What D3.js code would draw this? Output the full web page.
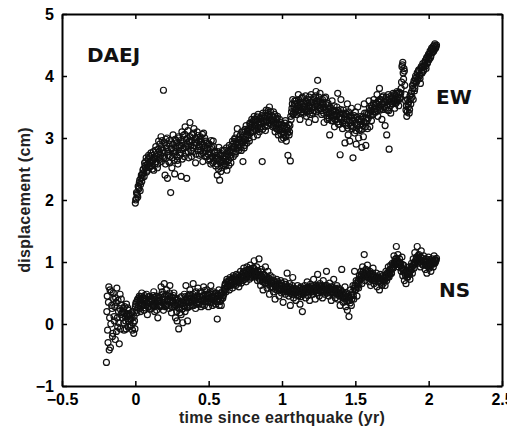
<!DOCTYPE html>
<meta charset="utf-8">
<style>
body { margin: 0; background: #fff; }
.axis text { font-family: "Liberation Sans", Arial, sans-serif; font-size: 16px; font-weight: bold; fill: #000; }
.axis path, .axis line { stroke: #000; }
.lbl { font-family: "Liberation Sans", Arial, sans-serif; font-size: 16px; font-weight: bold; fill: #222; letter-spacing: 0.3px; }
.tag { font-family: "DejaVu Sans", sans-serif; font-size: 20px; font-weight: bold; fill: #111; }
.pt { fill: none; stroke: #111; stroke-width: 1.2; }
</style>
<svg width="507" height="430"></svg>
<script src="https://d3js.org/d3.v7.min.js"></script>
<script>
// [days since earthquake, displacement in cm]
var ewPoints = [
[0,1.95],[1,2.00],[2,2.02],[3,2.12],[4,2.10],[5,2.08],[6,2.05],[7,2.22],[8,2.20],[9,2.18],
[10,2.28],[11,2.32],[12,2.15],[13,2.25],[14,2.35],[15,2.40],[16,2.30],[17,2.36],[18,2.42],[19,2.48],
[20,2.50],[21,2.44],[22,2.38],[23,2.60],[24,2.55],[25,2.52],[26,2.62],[27,2.68],[28,2.45],[29,2.56],
[30,2.58],[31,2.48],[32,2.66],[33,2.72],[34,2.52],[35,2.62],[36,2.70],[37,2.54],[38,2.60],[39,2.76],
[40,2.55],[41,2.62],[42,2.72],[43,2.50],[44,2.64],[45,2.78],[46,2.48],[47,2.66],[48,2.68],[49,2.58],
[50,2.80],[51,2.86],[52,2.62],[53,2.70],[54,2.74],[55,2.52],[56,2.58],[57,2.82],[58,2.95],[59,2.68],
[60,2.78],[61,2.90],[62,2.66],[63,2.72],[64,3.02],[65,2.62],[66,2.84],[67,2.96],[68,2.70],[69,2.80],
[70,3.77],[71,2.68],[72,2.76],[73,2.92],[74,2.40],[75,2.58],[76,2.98],[77,2.84],[78,2.88],[79,3.00],
[80,2.35],[81,2.78],[82,2.72],[83,2.62],[84,2.90],[85,2.96],[86,2.60],[87,2.70],[88,2.12],[89,2.84],
[90,2.82],[91,2.52],[92,2.68],[93,2.90],[94,3.05],[95,2.80],[96,2.75],[97,2.64],[98,2.42],[99,2.98],
[100,2.85],[101,2.78],[102,2.96],[103,2.92],[104,2.70],[105,2.64],[106,2.58],[107,3.02],[108,3.00],[109,2.84],
[110,2.88],[111,2.72],[112,2.76],[113,2.96],[114,2.38],[115,2.88],[116,3.10],[117,2.66],[118,2.82],[119,3.04],
[120,2.92],[121,2.84],[122,2.70],[123,3.06],[124,3.18],[125,2.76],[126,2.86],[127,2.98],[128,2.35],[129,2.90],
[130,3.00],[131,3.12],[132,2.78],[133,2.68],[134,2.95],[135,2.94],[136,3.25],[137,3.02],[138,2.88],[139,2.80],
[140,2.70],[141,2.96],[142,3.05],[143,2.78],[144,2.84],[145,3.08],[146,3.15],[147,2.88],[148,2.92],[149,3.00],
[150,2.60],[151,2.74],[152,2.98],[153,2.92],[154,3.10],[155,3.04],[156,2.80],[157,2.86],[158,2.95],[159,2.72],
[160,2.86],[161,2.98],[162,3.02],[163,2.80],[164,2.74],[165,2.94],[166,2.90],[167,3.06],[168,2.62],[169,2.76],
[170,3.08],[171,2.88],[172,2.84],[173,3.00],[174,2.78],[175,2.70],[176,2.95],[177,2.92],[178,2.70],[179,2.84],
[180,2.82],[181,2.74],[182,2.64],[183,2.90],[184,2.90],[185,2.66],[186,2.76],[187,2.82],[188,2.58],[189,2.96],
[190,2.85],[191,2.70],[192,2.70],[193,2.60],[194,2.95],[195,2.86],[196,2.62],[197,2.76],[198,2.78],[199,2.68],
[200,2.55],[201,2.66],[202,2.72],[203,2.58],[204,2.40],[205,2.78],[206,2.66],[207,2.50],[208,2.85],[209,2.64],
[210,2.32],[211,2.72],[212,2.60],[213,2.46],[214,2.75],[215,2.62],[216,2.52],[217,2.80],[218,2.68],[219,2.56],
[220,2.62],[221,2.72],[222,2.80],[223,2.58],[224,2.55],[225,2.66],[226,2.70],[227,2.84],[228,2.48],[229,2.62],
[230,2.78],[231,2.74],[232,2.64],[233,2.56],[234,2.88],[235,2.80],[236,2.72],[237,2.68],[238,2.60],[239,2.86],
[240,2.82],[241,2.76],[242,2.95],[243,2.90],[244,2.70],[245,2.84],[246,2.86],[247,2.98],[248,3.00],[249,2.74],
[250,2.78],[251,2.94],[252,2.92],[253,3.06],[254,3.15],[255,2.88],[256,2.84],[257,2.80],[258,2.98],[259,3.02],
[260,2.90],[261,2.98],[262,3.05],[263,2.86],[264,2.80],[265,3.10],[266,2.96],[267,2.92],[268,2.62],[269,3.02],
[270,3.10],[271,2.84],[272,2.88],[273,3.14],[274,2.98],[275,2.96],[276,3.20],[277,3.06],[278,2.92],[279,3.12],
[280,3.05],[281,3.10],[282,3.15],[283,3.00],[284,2.95],[285,3.24],[286,3.22],[287,3.08],[288,3.10],[289,3.18],
[290,3.30],[291,3.26],[292,3.18],[293,3.12],[294,3.02],[295,3.28],[296,3.35],[297,3.16],[298,3.20],[299,3.30],
[300,3.12],[301,3.20],[302,3.28],[303,3.34],[304,3.05],[305,3.16],[306,3.38],[307,3.26],[308,3.22],[309,3.10],
[310,3.15],[311,3.32],[312,3.30],[313,3.24],[314,3.18],[315,3.36],[316,2.62],[317,3.14],[318,3.40],[319,3.28],
[320,3.25],[321,3.32],[322,3.35],[323,3.18],[324,3.12],[325,3.40],[326,3.45],[327,3.26],[328,3.28],[329,3.36],
[330,3.20],[331,3.44],[332,3.38],[333,3.24],[334,3.50],[335,3.34],[336,3.30],[337,3.42],[338,3.22],[339,3.28],
[340,3.36],[341,3.28],[342,3.18],[343,3.34],[344,3.42],[345,3.20],[346,3.25],[347,3.38],[348,3.10],[349,3.22],
[350,3.30],[351,3.16],[352,3.15],[353,3.32],[354,3.35],[355,3.24],[356,3.05],[357,3.12],[358,3.22],[359,3.30],
[360,3.12],[361,3.18],[362,3.25],[363,3.06],[364,2.98],[365,3.22],[366,3.15],[367,3.10],[368,3.05],[369,3.00],
[370,3.20],[371,3.16],[372,3.08],[373,3.24],[374,3.28],[375,3.02],[376,2.95],[377,3.18],[378,3.12],[379,3.08],
[380,2.72],[381,3.15],[382,3.22],[383,3.05],[384,3.10],[385,3.20],[386,2.63],[387,3.35],[388,3.30],[389,3.42],
[390,3.48],[391,3.55],[392,3.62],[393,3.38],[394,3.40],[395,3.50],[396,3.55],[397,3.60],[398,3.45],[399,3.42],
[400,3.60],[401,3.48],[402,3.38],[403,3.56],[404,3.52],[405,3.44],[406,3.70],[407,3.62],[408,3.45],[409,3.50],
[410,3.30],[411,3.40],[412,3.58],[413,3.54],[414,3.42],[415,3.64],[416,3.66],[417,3.46],[418,3.50],[419,3.58],
[420,3.40],[421,3.52],[422,3.55],[423,3.46],[424,3.68],[425,3.60],[426,3.35],[427,3.42],[428,3.48],[429,3.56],
[430,3.62],[431,3.50],[432,3.25],[433,3.66],[434,3.52],[435,3.38],[436,3.44],[437,3.58],[438,3.70],[439,3.48],
[440,3.58],[441,3.50],[442,3.40],[443,3.62],[444,3.65],[445,3.44],[446,3.50],[447,3.56],[448,3.30],[449,3.68],
[450,3.75],[451,3.42],[452,3.55],[453,3.60],[454,3.93],[455,3.52],[456,3.45],[457,3.66],[458,3.60],[459,3.48],
[460,3.72],[461,3.58],[462,3.48],[463,3.44],[464,3.38],[465,3.56],[466,3.62],[467,3.50],[468,3.55],[469,3.40],
[470,3.25],[471,3.64],[472,3.50],[473,3.46],[474,3.66],[475,3.54],[476,3.42],[477,3.36],[478,3.30],[479,3.52],
[480,3.56],[481,3.46],[482,3.40],[483,3.32],[484,3.05],[485,3.50],[486,3.48],[487,3.40],[488,3.35],[489,3.28],
[490,3.60],[491,3.44],[492,3.28],[493,3.36],[494,3.45],[495,3.52],[496,3.18],[497,3.30],[498,3.38],[499,3.42],
[500,3.30],[501,3.36],[502,3.50],[503,3.26],[504,3.72],[505,3.44],[506,3.22],[507,3.34],[508,3.40],[509,3.22],
[510,2.73],[511,3.46],[512,3.62],[513,3.30],[514,3.32],[515,3.40],[516,3.15],[517,3.24],[518,3.45],[519,3.38],
[520,3.28],[521,3.34],[522,2.92],[523,3.22],[524,3.40],[525,3.38],[526,3.20],[527,3.30],[528,3.55],[529,3.16],
[530,3.05],[531,3.42],[532,3.35],[533,3.28],[534,2.95],[535,3.36],[536,3.25],[537,3.20],[538,3.48],[539,3.32],
[540,3.15],[541,3.28],[542,2.68],[543,3.18],[544,3.32],[545,3.36],[546,3.08],[547,3.24],[548,3.42],[549,3.12],
[550,2.90],[551,3.34],[552,3.22],[553,3.20],[554,3.50],[555,3.30],[556,3.00],[557,3.14],[558,3.30],[559,3.26],
[560,3.12],[561,3.22],[562,3.35],[563,3.30],[564,2.85],[565,3.14],[566,3.20],[567,3.34],[568,3.02],[569,3.26],
[570,3.55],[571,3.40],[572,3.25],[573,3.18],[574,2.88],[575,3.32],[576,3.40],[577,3.28],[578,3.15],[579,3.38],
[580,3.32],[581,3.40],[582,3.60],[583,3.48],[584,3.18],[585,3.36],[586,3.45],[587,3.52],[588,3.28],[589,3.44],
[590,3.50],[591,3.38],[592,3.38],[593,3.56],[594,3.62],[595,3.46],[596,3.42],[597,3.50],[598,3.55],[599,3.42],
[600,3.48],[601,3.56],[602,3.70],[603,3.44],[604,3.35],[605,3.60],[606,3.58],[607,3.50],[608,3.80],[609,3.62],
[610,3.45],[611,3.48],[612,3.62],[613,3.54],[614,3.30],[615,3.66],[616,3.55],[617,3.46],[618,3.68],[619,3.58],
[620,3.50],[621,3.58],[622,3.20],[623,3.48],[624,3.62],[625,3.66],[626,3.05],[627,3.54],[628,3.45],[629,3.60],
[630,3.70],[631,3.44],[632,2.82],[633,3.62],[634,3.58],[635,3.52],[636,3.40],[637,3.68],[638,3.65],[639,3.56],
[640,3.55],[641,3.64],[642,3.72],[643,3.58],[644,3.60],[645,3.70],[646,3.48],[647,3.62],[648,3.68],[649,3.56],
[650,3.58],[651,3.72],[652,3.75],[653,3.66],[654,3.62],[655,3.60],[656,3.52],[657,3.74],[658,3.70],[659,3.64],
[660,3.65],[661,3.72],[662,3.80],[663,3.90],[664,4.15],[665,4.18],[666,4.22],[667,4.05],[668,3.95],[669,4.12],
[670,4.08],[671,3.85],[672,3.70],[673,3.60],[674,3.45],[675,3.52],[676,3.35],[677,3.42],[678,3.62],[679,3.55],
[680,3.50],[681,3.58],[682,3.40],[683,3.46],[684,3.68],[685,3.62],[686,3.55],[687,3.72],[688,3.75],[689,3.66],
[690,3.85],[691,3.80],[692,3.62],[693,3.88],[694,3.92],[695,3.76],[696,3.80],[697,3.96],[698,4.00],[699,3.90],
[700,3.90],[701,3.98],[702,4.05],[703,3.94],[704,3.95],[705,4.08],[706,4.10],[707,4.02],[708,4.00],[709,3.96],
[710,3.88],[711,4.12],[712,4.15],[713,4.06],[714,4.05],[715,4.14],[716,4.20],[717,4.08],[718,4.10],[719,4.16],
[720,4.18],[721,4.22],[722,4.25],[723,4.16],[724,4.12],[725,4.28],[726,4.30],[727,4.20],[728,4.22],[729,4.32],
[730,4.35],[731,4.26],[732,4.28],[733,4.36],[734,4.40],[735,4.30],[736,4.32],[737,4.42],[738,4.45],[739,4.38],
[740,4.38],[741,4.44],[742,4.48],[743,4.40],[744,4.42],[745,4.50],[746,4.52],[747,4.46],[748,4.45],[749,4.48],[750,4.50]
];
var nsPoints = [
[-72,-0.62],[-71,0.20],[-70,0.45],[-69,-0.10],[-68,-0.30],[-67,0.35],[-66,0.60],[-65,-0.42],[-64,0.10],[-63,0.55],
[-62,-0.38],[-61,0.00],[-60,0.52],[-59,0.30],[-58,0.25],[-57,-0.20],[-56,-0.15],[-55,0.50],[-54,0.40],[-53,0.12],
[-52,0.05],[-51,0.28],[-50,-0.25],[-49,0.42],[-48,0.35],[-47,-0.12],[-46,0.58],[-45,0.10],[-44,-0.05],[-43,0.38],
[-42,0.20],[-41,0.02],[-40,-0.32],[-39,0.25],[-38,0.48],[-37,-0.08],[-36,0.15],[-35,0.40],[-34,0.30],[-33,0.18],
[-32,0.10],[-31,0.20],[-30,0.25],[-29,0.02],[-28,-0.10],[-27,0.28],[-26,0.18],[-25,0.12],[-24,0.05],[-23,-0.08],
[-22,0.32],[-21,0.16],[-20,0.12],[-19,0.26],[-18,-0.05],[-17,0.04],[-16,0.22],[-15,0.14],[-14,0.08],[-13,-0.04],
[-12,0.15],[-11,0.08],[-10,-0.02],[-9,0.18],[-8,0.10],[-7,-0.10],[-6,0.20],[-5,0.02],[-4,-0.15],[-3,0.12],[-2,0.05],[-1,-0.08],
[0,0.28],[1,0.32],[2,0.35],[3,0.22],[4,0.18],[5,0.38],[6,0.40],[7,0.26],[8,0.30],[9,0.42],
[10,0.45],[11,0.34],[12,0.25],[13,0.20],[14,0.38],[15,0.44],[16,0.50],[17,0.30],[18,0.32],[19,0.40],
[20,0.42],[21,0.30],[22,0.22],[23,0.46],[24,0.36],[25,0.26],[26,0.30],[27,0.40],[28,0.48],[29,0.34],
[30,0.15],[31,0.28],[32,0.38],[33,0.44],[34,0.28],[35,0.36],[36,0.44],[37,0.24],[38,0.35],[39,0.40],
[40,0.25],[41,0.38],[42,0.40],[43,0.30],[44,0.32],[45,0.46],[46,0.52],[47,0.28],[48,0.20],[49,0.40],
[50,0.36],[51,0.34],[52,0.45],[53,0.22],[54,0.30],[55,0.42],[56,0.10],[57,0.36],[58,0.38],[59,0.30],
[60,0.42],[61,0.36],[62,0.28],[63,0.46],[64,0.60],[65,0.30],[66,0.35],[67,0.52],[68,0.48],[69,0.40],
[70,0.22],[71,0.34],[72,0.65],[73,0.44],[74,0.40],[75,0.28],[76,0.30],[77,0.48],[78,0.55],[79,0.38],
[80,0.32],[81,0.40],[82,0.45],[83,0.30],[84,0.25],[85,0.50],[86,0.62],[87,0.36],[88,0.38],[89,0.44],
[90,0.18],[91,0.28],[92,0.42],[93,0.38],[94,0.35],[95,0.46],[96,0.50],[97,0.32],[98,0.28],[99,0.42],
[100,0.10],[101,0.30],[102,0.38],[103,0.20],[104,0.05],[105,0.40],[106,0.32],[107,0.26],[108,-0.08],[109,0.36],
[110,0.25],[111,0.18],[112,0.42],[113,0.32],[114,0.15],[115,0.44],[116,0.35],[117,0.24],[118,0.02],[119,0.34],
[120,0.30],[121,0.38],[122,0.48],[123,0.28],[124,0.20],[125,0.44],[126,0.62],[127,0.34],[128,0.38],[129,0.26],
[130,0.05],[131,0.42],[132,0.45],[133,0.36],[134,0.28],[135,0.48],[136,0.55],[137,0.30],[138,0.35],[139,0.40],
[140,0.42],[141,0.36],[142,0.30],[143,0.48],[144,0.65],[145,0.30],[146,0.38],[147,0.42],[148,0.50],[149,0.38],
[150,0.25],[151,0.52],[152,0.44],[153,0.34],[154,0.32],[155,0.46],[156,0.58],[157,0.40],[158,0.40],[159,0.32],
[160,0.35],[161,0.44],[162,0.52],[163,0.38],[164,0.28],[165,0.50],[166,0.45],[167,0.32],[168,0.38],[169,0.46],
[170,0.60],[171,0.40],[172,0.30],[173,0.54],[174,0.48],[175,0.36],[176,0.36],[177,0.42],[178,0.55],[179,0.48],
[180,0.40],[181,0.36],[182,0.28],[183,0.46],[184,0.50],[185,0.40],[186,0.35],[187,0.52],[188,0.62],[189,0.34],
[190,0.42],[191,0.44],[192,0.30],[193,0.48],[194,0.52],[195,0.38],[196,0.38],[197,0.42],[198,0.45],[199,0.50],
[200,0.32],[201,0.44],[202,0.50],[203,0.36],[204,0.08],[205,0.48],[206,0.40],[207,0.40],[208,0.55],[209,0.30],
[210,0.36],[211,0.46],[212,0.46],[213,0.38],[214,0.30],[215,0.50],[216,0.52],[217,0.42],[218,0.42],[219,0.46],
[220,0.48],[221,0.54],[222,0.58],[223,0.62],[224,0.65],[225,0.56],[226,0.52],[227,0.68],[228,0.72],[229,0.60],
[230,0.60],[231,0.64],[232,0.68],[233,0.70],[234,0.55],[235,0.66],[236,0.75],[237,0.62],[238,0.62],[239,0.72],
[240,0.70],[241,0.66],[242,0.58],[243,0.74],[244,0.78],[245,0.64],[246,0.65],[247,0.70],[248,0.72],[249,0.76],
[250,0.62],[251,0.68],[252,0.80],[253,0.72],[254,0.68],[255,0.78],[256,0.74],[257,0.66],[258,0.60],[259,0.70],
[260,0.72],[261,0.76],[262,0.85],[263,0.70],[264,0.66],[265,0.80],[266,0.78],[267,0.74],[268,0.70],[269,0.84],
[270,0.90],[271,0.78],[272,0.75],[273,0.72],[274,0.82],[275,0.86],[276,0.68],[277,0.80],[278,0.92],[279,0.76],
[280,0.78],[281,0.84],[282,0.88],[283,0.80],[284,0.72],[285,0.88],[286,0.95],[287,0.76],[288,0.82],[289,0.86],
[290,0.75],[291,0.82],[292,0.90],[293,0.78],[294,0.80],[295,0.90],[296,1.02],[297,0.84],[298,0.85],[299,0.80],
[300,0.76],[301,0.82],[302,0.92],[303,0.78],[304,0.70],[305,0.86],[306,0.85],[307,0.74],[308,1.05],[309,0.80],
[310,0.78],[311,0.70],[312,0.62],[313,0.84],[314,0.88],[315,0.76],[316,0.72],[317,0.68],[318,0.55],[319,0.74],
[320,0.80],[321,0.72],[322,0.66],[323,0.78],[324,0.92],[325,0.66],[326,0.70],[327,0.76],[328,0.58],[329,0.70],
[330,0.85],[331,0.64],[332,0.72],[333,0.74],[334,0.48],[335,0.68],[336,0.78],[337,0.60],[338,0.65],[339,0.70],
[340,0.60],[341,0.66],[342,0.75],[343,0.58],[344,0.52],[345,0.70],[346,0.68],[347,0.62],[348,0.40],[349,0.56],
[350,0.62],[351,0.64],[352,0.72],[353,0.60],[354,0.55],[355,0.68],[356,0.65],[357,0.58],[358,0.45],[359,0.62],
[360,0.58],[361,0.62],[362,0.70],[363,0.56],[364,0.50],[365,0.66],[366,0.62],[367,0.58],[368,0.35],[369,0.52],
[370,0.55],[371,0.60],[372,0.68],[373,0.54],[374,0.48],[375,0.64],[376,0.60],[377,0.56],[378,0.82],[379,0.58],
[380,0.52],[381,0.56],[382,0.45],[383,0.60],[384,0.65],[385,0.50],[386,0.30],[387,0.58],[388,0.55],[389,0.52],
[390,0.48],[391,0.62],[392,0.75],[393,0.54],[394,0.42],[395,0.48],[396,0.58],[397,0.56],[398,0.50],[399,0.52],
[400,0.38],[401,0.50],[402,0.55],[403,0.56],[404,0.62],[405,0.46],[406,0.45],[407,0.54],[408,0.52],[409,0.50],
[410,0.32],[411,0.58],[412,0.60],[413,0.44],[414,0.48],[415,0.52],[416,0.20],[417,0.56],[418,0.55],[419,0.48],
[420,0.50],[421,0.54],[422,0.62],[423,0.50],[424,0.42],[425,0.58],[426,0.58],[427,0.52],[428,0.68],[429,0.56],
[430,0.46],[431,0.60],[432,0.55],[433,0.50],[434,0.38],[435,0.54],[436,0.64],[437,0.58],[438,0.52],[439,0.52],
[440,0.60],[441,0.56],[442,0.48],[443,0.62],[444,0.72],[445,0.52],[446,0.55],[447,0.58],[448,0.40],[449,0.54],
[450,0.62],[451,0.60],[452,0.50],[453,0.56],[454,0.80],[455,0.50],[456,0.58],[457,0.62],[458,0.45],[459,0.56],
[460,0.65],[461,0.58],[462,0.52],[463,0.54],[464,0.60],[465,0.62],[466,0.42],[467,0.56],[468,0.70],[469,0.52],
[470,0.55],[471,0.60],[472,0.48],[473,0.58],[474,0.62],[475,0.54],[476,0.85],[477,0.62],[478,0.50],[479,0.56],
[480,0.58],[481,0.54],[482,0.45],[483,0.58],[484,0.66],[485,0.50],[486,0.52],[487,0.56],[488,0.38],[489,0.60],
[490,0.60],[491,0.52],[492,0.48],[493,0.56],[494,0.72],[495,0.50],[496,0.55],[497,0.58],[498,0.42],[499,0.54],
[500,0.50],[501,0.52],[502,0.62],[503,0.56],[504,0.40],[505,0.48],[506,0.58],[507,0.54],[508,0.45],[509,0.50],
[510,0.30],[511,0.46],[512,0.55],[513,0.52],[514,0.88],[515,0.48],[516,0.48],[517,0.42],[518,0.35],[519,0.50],
[520,0.42],[521,0.46],[522,0.60],[523,0.40],[524,0.28],[525,0.48],[526,0.50],[527,0.36],[528,0.22],[529,0.44],
[530,0.45],[531,0.38],[532,0.12],[533,0.42],[534,0.38],[535,0.34],[536,0.55],[537,0.46],[538,0.30],[539,0.40],
[540,0.48],[541,0.52],[542,0.62],[543,0.46],[544,0.40],[545,0.58],[546,0.85],[547,0.62],[548,0.55],[549,0.56],
[550,0.70],[551,0.66],[552,0.45],[553,0.60],[554,0.65],[555,0.70],[556,0.58],[557,0.64],[558,0.78],[559,0.72],
[560,0.72],[561,0.76],[562,0.85],[563,0.80],[564,0.65],[565,0.74],[566,0.92],[567,0.84],[568,0.78],[569,0.78],
[570,1.12],[571,0.82],[572,0.70],[573,0.86],[574,0.88],[575,0.76],[576,0.80],[577,0.84],[578,0.95],[579,0.80],
[580,0.75],[581,0.80],[582,0.68],[583,0.74],[584,0.85],[585,0.78],[586,0.62],[587,0.72],[588,0.80],[589,0.76],
[590,0.72],[591,0.82],[592,0.90],[593,0.70],[594,0.65],[595,0.76],[596,0.78],[597,0.74],[598,0.70],[599,0.72],
[600,0.82],[601,0.72],[602,0.60],[603,0.76],[604,0.75],[605,0.68],[606,0.68],[607,0.74],[608,0.55],[609,0.70],
[610,0.80],[611,0.66],[612,0.72],[613,0.72],[614,0.62],[615,0.76],[616,0.78],[617,0.70],[618,0.66],[619,0.74],
[620,0.74],[621,0.70],[622,0.62],[623,0.78],[624,0.85],[625,0.74],[626,0.70],[627,0.82],[628,0.80],[629,0.76],
[630,0.92],[631,0.84],[632,0.76],[633,0.80],[634,0.88],[635,0.86],[636,0.95],[637,0.82],[638,0.82],[639,0.90],
[640,0.98],[641,0.92],[642,0.90],[643,0.96],[644,1.10],[645,1.00],[646,0.95],[647,1.02],[648,1.05],[649,0.98],
[650,1.25],[651,1.06],[652,1.00],[653,1.02],[654,1.12],[655,0.96],[656,0.92],[657,1.00],[658,1.05],[659,0.98],
[660,0.98],[661,0.94],[662,0.85],[663,0.90],[664,1.08],[665,0.96],[666,0.78],[667,0.86],[668,0.95],[669,0.88],
[670,0.70],[671,0.82],[672,0.88],[673,0.78],[674,0.65],[675,0.84],[676,0.82],[677,0.76],[678,0.75],[679,0.80],
[680,0.80],[681,0.84],[682,0.92],[683,0.80],[684,0.72],[685,0.86],[686,0.88],[687,0.92],[688,0.98],[689,0.88],
[690,0.82],[691,0.94],[692,1.05],[693,0.96],[694,0.90],[695,1.00],[696,1.15],[697,0.98],[698,1.00],[699,1.04],
[700,1.08],[701,1.02],[702,1.25],[703,1.06],[704,0.98],[705,1.10],[706,1.12],[707,1.00],[708,1.05],[709,1.04],
[710,0.92],[711,1.08],[712,1.18],[713,0.98],[714,1.02],[715,1.06],[716,0.95],[717,1.02],[718,1.10],[719,1.00],
[720,1.00],[721,0.96],[722,0.88],[723,1.02],[724,1.05],[725,0.94],[726,0.82],[727,1.00],[728,0.95],[729,0.98],
[730,1.08],[731,0.92],[732,0.90],[733,1.04],[734,1.02],[735,0.96],[736,0.85],[737,0.94],[738,0.98],[739,1.00],
[740,1.05],[741,1.02],[742,0.92],[743,0.98],[744,1.10],[745,1.04],[746,0.98],[747,1.00],[748,1.02],[749,1.03],[750,1.06]
];
var xTicks = [-0.5, 0, 0.5, 1, 1.5, 2, 2.5];
var yTicks = [-1, 0, 1, 2, 3, 4, 5];
var tags = [
  {text: "DAEJ", t: -0.33, v: 4.23},
  {text: "EW", t: 2.05, v: 3.55},
  {text: "NS", t: 2.07, v: 0.44}
];

var svg = d3.select("svg"),
    margin = {top: 14, right: 5, bottom: 44, left: 62},
    width = +svg.attr("width") - margin.left - margin.right,
    height = +svg.attr("height") - margin.top - margin.bottom;

var x = d3.scaleLinear().domain([-0.5, 2.5]).range([0, width]);
var y = d3.scaleLinear().domain([-1, 5]).range([height, 0]);
var yr = function(d) { return d / 365.25; };
var fmt = function(d) { return String(d).replace("-", "\u2212"); };

var g = svg.append("g")
    .attr("transform", "translate(" + margin.left + "," + margin.top + ")");

g.selectAll(".ew")
  .data(ewPoints)
  .enter().append("circle")
    .attr("class", "pt")
    .attr("r", 3)
    .attr("cx", function(d) { return x(yr(d[0])); })
    .attr("cy", function(d) { return y(d[1]); });

g.selectAll(".ns")
  .data(nsPoints)
  .enter().append("circle")
    .attr("class", "pt")
    .attr("r", 3)
    .attr("cx", function(d) { return x(yr(d[0])); })
    .attr("cy", function(d) { return y(d[1]); });

// box with inward ticks on all four sides
g.append("g").attr("class", "axis")
    .attr("transform", "translate(0," + height + ")")
    .call(d3.axisBottom(x).tickValues(xTicks).tickFormat(fmt).tickSizeInner(-5).tickSizeOuter(0).tickPadding(8));
g.append("g").attr("class", "axis")
    .call(d3.axisTop(x).tickValues(xTicks).tickFormat("").tickSizeInner(-5).tickSizeOuter(0));
g.append("g").attr("class", "axis")
    .call(d3.axisLeft(y).tickValues(yTicks).tickFormat(fmt).tickSizeInner(-5).tickSizeOuter(0).tickPadding(8));
g.append("g").attr("class", "axis")
    .attr("transform", "translate(" + width + ",0)")
    .call(d3.axisRight(y).tickValues(yTicks).tickFormat("").tickSizeInner(-5).tickSizeOuter(0));
g.selectAll(".axis path").attr("stroke-width", 2);
g.selectAll(".axis line").attr("stroke-width", 1.5);

g.selectAll(".tag")
  .data(tags)
  .enter().append("text")
    .attr("class", "tag")
    .attr("x", function(d) { return x(d.t); })
    .attr("y", function(d) { return y(d.v); })
    .text(function(d) { return d.text; });

svg.append("text")
    .attr("class", "lbl")
    .attr("text-anchor", "middle")
    .attr("x", margin.left + x(1))
    .attr("y", 423)
    .text("time since earthquake (yr)");

svg.append("text")
    .attr("class", "lbl")
    .attr("text-anchor", "middle")
    .attr("transform", "translate(30," + (margin.top + y(2)) + ") rotate(-90)")
    .text("displacement (cm)");
</script>
